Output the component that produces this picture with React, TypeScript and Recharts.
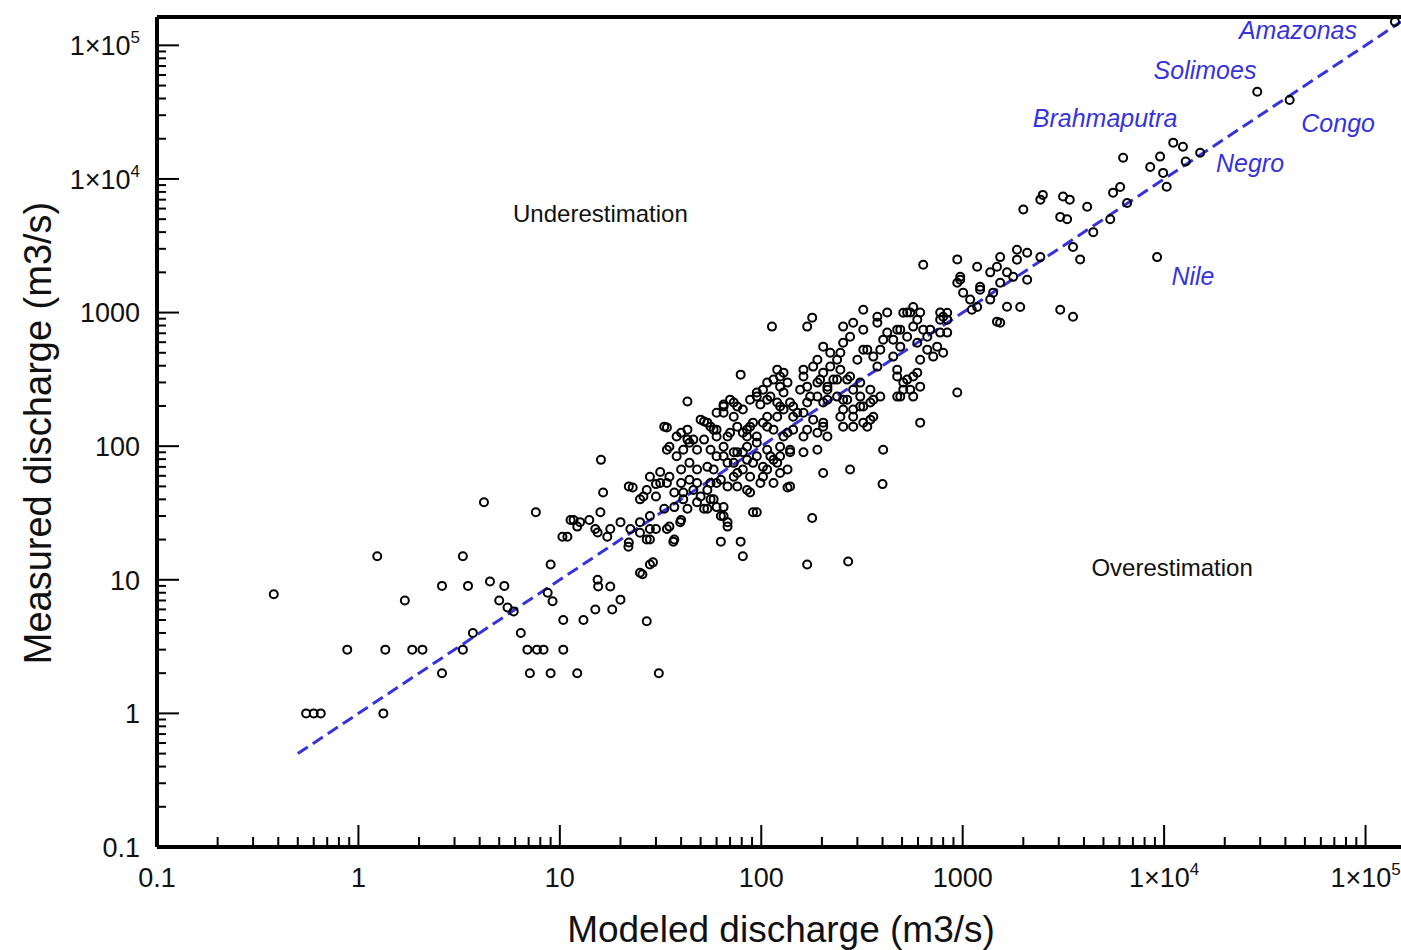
import { ScatterChart, Scatter, XAxis, YAxis, ReferenceLine, Label } from 'recharts';

// axis ranges (log scale)
const X_MIN = 0.1;
const X_MAX = 150000;
const Y_MIN = 0.1;
const Y_MAX = 163000;

const DECADES = [0.1, 1, 10, 100, 1000, 10000, 100000];
const MINOR_STEPS = [2, 3, 4, 5, 6, 7, 8, 9];

// [modeled, measured] discharge in m3/s
const STATIONS: [number, number][] = [
  [0.38, 7.8], [0.55, 1], [0.6, 1], [0.65, 1], [1.33, 1], [1.24, 15], [0.88, 3], [1.36, 3],
  [1.85, 3], [2.08, 3], [1.7, 7], [2.6, 9], [3.5, 9], [3.3, 15], [3.3, 3], [3.7, 4], [2.6, 2],
  [4.2, 38], [7.6, 32], [4.5, 9.7], [5.3, 9], [5.0, 7], [5.9, 5.8], [5.5, 6.2], [6.4, 4],
  [6.9, 3], [7.7, 3], [8.3, 3], [10.4, 3], [7.1, 2], [9, 2], [12.2, 2], [9, 13], [8.7, 8],
  [9.2, 6.9], [10.4, 5], [13.1, 5], [15, 6], [11.3, 28], [12.6, 27], [10.3, 21],
  [16.4, 45], [23, 49], [25, 40], [30, 52], [12.2, 25], [15.9, 32], [15, 24], [17.2, 21],
  [20, 27], [22.4, 24], [21.9, 17.7], [25, 27], [27, 20], [28, 24], [34, 24], [36.6, 19.3],
  [39.6, 27], [43, 34], [54, 34], [58, 40], [63, 30], [68, 27], [63, 19.3], [79, 19.3],
  [81, 15], [95, 32], [88, 45], [135, 49], [179, 29], [169, 13], [270, 13.7], [400, 52],
  [28, 13], [25.7, 11], [15.4, 10], [17.8, 8.9], [15.5, 8.9], [20, 7.1], [18.2, 6], [27, 4.9],
  [31, 2],
  [43, 216], [16, 79], [34, 138], [40, 126], [35, 99], [41, 94], [48, 94], [43, 112],
  [52, 153], [58, 133], [65, 205], [73, 212], [60, 178], [81, 126], [91, 150], [99, 205],
  [111, 235], [124, 198], [139, 212], [144, 166], [107, 166], [115, 133], [135, 126],
  [124, 99], [139, 94], [115, 79], [107, 67], [85, 79], [73, 90], [68, 75], [60, 84],
  [54, 70], [48, 67], [28, 59], [31.5, 64], [34, 53], [40, 53], [44, 56], [37, 45], [41, 45],
  [46, 47], [50, 42], [56, 53], [63, 56], [68, 50], [73, 59], [88, 59], [22, 50], [26, 42],
  [56, 40], [60, 35], [52, 34], [65, 30], [68, 25], [37, 35], [40, 28], [35, 25], [30, 24],
  [28, 20], [25, 22.5], [22, 19], [17.8, 24], [14, 28], [11.7, 28], [10.9, 21], [15.4, 22.6],
  [37, 20], [91, 32], [139, 50], [29, 13.5], [25, 11.3],
  [33, 140], [38, 118], [44, 106], [52, 112], [65, 84], [73, 75], [81, 90], [91, 75],
  [102, 70], [120, 75], [135, 67], [115, 53], [99, 53], [76, 63], [58, 67], [44, 75],
  [38, 84], [34, 94], [40, 67], [35, 59], [31.5, 53], [27, 47], [30, 42], [48, 53], [54, 47],
  [60, 53], [76, 50], [85, 47], [65, 35], [48, 38], [41, 40], [33, 34], [28, 30],
  [113, 785], [169, 785], [179, 916], [79, 343], [120, 374], [129, 355], [115, 315],
  [124, 279], [135, 299], [102, 265], [95, 235], [107, 223], [120, 212], [70, 223], [65, 198],
  [76, 198], [50, 158], [56, 140], [43, 133], [46, 112], [60, 118], [70, 126], [85, 133],
  [95, 118], [107, 140], [151, 178], [169, 212], [169, 279], [162, 374], [181, 394],
  [203, 355], [196, 315], [213, 279], [228, 315], [220, 500], [203, 556], [238, 444],
  [247, 374], [267, 315], [190, 235], [213, 223], [238, 235], [267, 223], [286, 265],
  [310, 235], [255, 188], [286, 188], [321, 198], [360, 223], [390, 235], [348, 158],
  [286, 140], [190, 126], [203, 140], [169, 133], [139, 90], [111, 84], [95, 84], [85, 99],
  [76, 90], [65, 99], [56, 94], [81, 67], [102, 59], [124, 63], [336, 140], [360, 166],
  [124, 332], [107, 299], [129, 252], [144, 198], [162, 178], [181, 158], [203, 150],
  [129, 188], [120, 166], [95, 252], [88, 223], [81, 188], [73, 166], [65, 178], [76, 140],
  [88, 140], [102, 150], [129, 118], [144, 133], [162, 118], [213, 118], [190, 94],
  [162, 90], [124, 84], [107, 94], [95, 106], [85, 118], [68, 118], [60, 133], [54, 150],
  [247, 501], [190, 444], [220, 394], [162, 332], [190, 299], [213, 265], [238, 315],
  [276, 332], [310, 299], [348, 265], [255, 223], [310, 198], [348, 212], [321, 150],
  [286, 166], [247, 166], [255, 140], [203, 212], [175, 235], [156, 265],
  [255, 785], [286, 840], [321, 1050], [377, 931], [422, 1000], [321, 745], [336, 528],
  [360, 468], [390, 528], [422, 708], [452, 627], [490, 745], [549, 1000], [568, 1100],
  [615, 1000], [568, 785], [452, 468], [473, 332], [507, 299], [549, 265], [490, 235],
  [568, 235], [615, 279], [568, 332], [667, 528], [615, 444], [714, 468], [800, 500],
  [747, 556], [838, 708], [773, 885], [838, 998], [667, 660], [940, 252], [615, 150],
  [403, 94], [276, 67], [203, 63], [1089, 1250], [1110, 1050],
  [377, 840], [507, 998], [595, 885], [637, 745], [800, 931], [773, 708], [595, 595],
  [530, 660], [473, 745], [490, 556], [403, 627], [276, 660], [255, 595], [321, 528],
  [300, 444], [377, 394], [473, 374], [530, 315], [507, 265], [595, 355], [473, 235],
  [972, 1760], [1220, 1480], [1416, 1410], [1480, 855],
  [6260, 14400], [9550, 14700], [12400, 17400], [11100, 18700], [8530, 12300],
  [9890, 11100], [10300, 8740], [15100, 15700], [12800, 13500], [5580, 7900], [6050, 8700],
  [6550, 6600], [5400, 5000], [4450, 4000], [4150, 6200], [3400, 7000], [3150, 7400],
  [3050, 5200], [3300, 5000], [2430, 7000], [2500, 7600], [2000, 5900], [3830, 2500],
  [3530, 3100], [9230, 2600], [2430, 2600], [2090, 2800], [1860, 2950], [1535, 2600],
  [1480, 2200], [1370, 2000], [1180, 2200], [637, 2280], [940, 2500], [972, 1850],
  [940, 1670], [1005, 1410], [1220, 1560], [1535, 1670], [1780, 1850], [2090, 1760],
  [1860, 2490], [1660, 2000], [1180, 1100], [1370, 1250], [1660, 1107], [1930, 1100],
  [1535, 840], [3050, 1050], [3530, 930], [530, 1000], [773, 1000], [838, 885], [690, 745],
  [29000, 45000], [42000, 39000], [140000, 150000],
];

// 1:1 line end points
const ONE_TO_ONE = [0.5, 150000];

const RIVER_NAMES = ['Amazonas', 'Solimoes', 'Brahmaputra', 'Congo', 'Negro', 'Nile'];
const RIVER_X = [46200, 15960, 5090, 73100, 26700, 13900];
const RIVER_Y = [130600, 65600, 28700, 26300, 13200, 1890];

const ZONE_NAMES = ['Underestimation', 'Overestimation'];
const ZONE_X = [15.9, 10960];
const ZONE_Y = [5500, 12.4];

const BLUE = '#3733db';
const FONT = '"Liberation Sans", Arial, Helvetica, sans-serif';

const logTicks = (max: number) =>
  [...DECADES, ...DECADES.flatMap((d) => MINOR_STEPS.map((m) => +(d * m).toPrecision(3)))]
    .filter((v) => v <= max)
    .sort((a, b) => a - b);

const X_TICKS = logTicks(X_MAX);
const Y_TICKS = logTicks(Y_MAX);

const stationData = STATIONS.map(([x, y]) => ({ x, y }));
const lineData = ONE_TO_ONE.map((v) => ({ x: v, y: v }));
const riverData = RIVER_NAMES.map((name, i) => ({ name, x: RIVER_X[i], y: RIVER_Y[i] }));
const zoneData = ZONE_NAMES.map((name, i) => ({ name, x: ZONE_X[i], y: ZONE_Y[i] }));

function TickText({ x, y, value, anchor, dy }: any) {
  if (value >= 10000) {
    const exp = Math.round(Math.log10(value));
    return (
      <text x={x} y={y} dy={dy} textAnchor={anchor} fontSize={27} fill='#111'>
        1×10<tspan dy={-12} fontSize={17}>{exp}</tspan>
      </text>
    );
  }
  return (
    <text x={x} y={y} dy={dy} textAnchor={anchor} fontSize={27} fill='#111'>
      {String(value)}
    </text>
  );
}

function XTick({ x, y, payload }: any) {
  const major = DECADES.includes(payload.value);
  return (
    <g>
      <line x1={x} x2={x} y1={y} y2={y - (major ? 22 : 10)} stroke='#000' strokeWidth={2} />
      {major && <TickText x={x} y={y + 40} value={payload.value} anchor='middle' />}
    </g>
  );
}

function YTick({ x, y, payload }: any) {
  const major = DECADES.includes(payload.value);
  return (
    <g>
      <line x1={x} x2={x + (major ? 22 : 9)} y1={y} y2={y} stroke='#000' strokeWidth={2} />
      {major && <TickText x={x - 17} y={y} dy='0.36em' value={payload.value} anchor='end' />}
    </g>
  );
}

const circle = (p: any) => (
  <circle cx={p.cx} cy={p.cy} r={4} fill='none' stroke='#000' strokeWidth={2} />
);

const riverLabel = (p: any) => (
  <text
    x={p.cx}
    y={p.cy}
    textAnchor='middle'
    dominantBaseline='central'
    fontStyle='italic'
    fontSize={25}
    fill={BLUE}
  >
    {p.payload.name}
  </text>
);

const zoneLabel = (p: any) => (
  <text x={p.cx} y={p.cy} textAnchor='middle' dominantBaseline='central' fontSize={24} fill='#111'>
    {p.payload.name}
  </text>
);

export default function App() {
  return (
    <div style={{ width: 1401, height: 950, background: '#fff', fontFamily: FONT }}>
      <style>{'body{margin:0;}'}</style>
      <ScatterChart width={1401} height={950} margin={{ top: 17, right: 0, bottom: 0, left: 0 }}>
        <XAxis
          type='number'
          dataKey='x'
          scale='log'
          domain={[X_MIN, X_MAX]}
          allowDataOverflow
          ticks={X_TICKS}
          interval={0}
          tickSize={0}
          tickMargin={0}
          tickLine={false}
          tick={<XTick />}
          height={103}
          axisLine={{ stroke: '#000', strokeWidth: 4 }}
        >
          <Label
            content={({ viewBox }: any) => (
              <text
                x={viewBox.x + viewBox.width / 2 + 2}
                y={viewBox.y + viewBox.height - 8}
                textAnchor='middle'
                fontSize={37}
                fill='#111'
              >
                Modeled discharge (m3/s)
              </text>
            )}
          />
        </XAxis>
        <YAxis
          type='number'
          dataKey='y'
          scale='log'
          domain={[Y_MIN, Y_MAX]}
          allowDataOverflow
          ticks={Y_TICKS}
          interval={0}
          tickSize={0}
          tickMargin={0}
          tickLine={false}
          tick={<YTick />}
          width={157}
          axisLine={{ stroke: '#000', strokeWidth: 4 }}
        >
          <Label
            content={({ viewBox }: any) => {
              const cx = viewBox.x + 38;
              const cy = viewBox.y + viewBox.height / 2 + 1;
              return (
                <text
                  x={cx}
                  y={cy}
                  transform={`rotate(-90 ${cx} ${cy})`}
                  textAnchor='middle'
                  dominantBaseline='central'
                  fontSize={38}
                  fill='#111'
                >
                  Measured discharge (m3/s)
                </text>
              );
            }}
          />
        </YAxis>
        <ReferenceLine y={Y_MAX} stroke='#000' strokeWidth={4} ifOverflow='visible' />
        <Scatter
          data={lineData}
          isAnimationActive={false}
          shape={() => <g />}
          line={{ stroke: BLUE, strokeWidth: 3, strokeDasharray: '12 6' }}
        />
        <Scatter data={stationData} isAnimationActive={false} shape={circle} />
        <Scatter data={riverData} isAnimationActive={false} shape={riverLabel} />
        <Scatter data={zoneData} isAnimationActive={false} shape={zoneLabel} />
      </ScatterChart>
    </div>
  );
}
